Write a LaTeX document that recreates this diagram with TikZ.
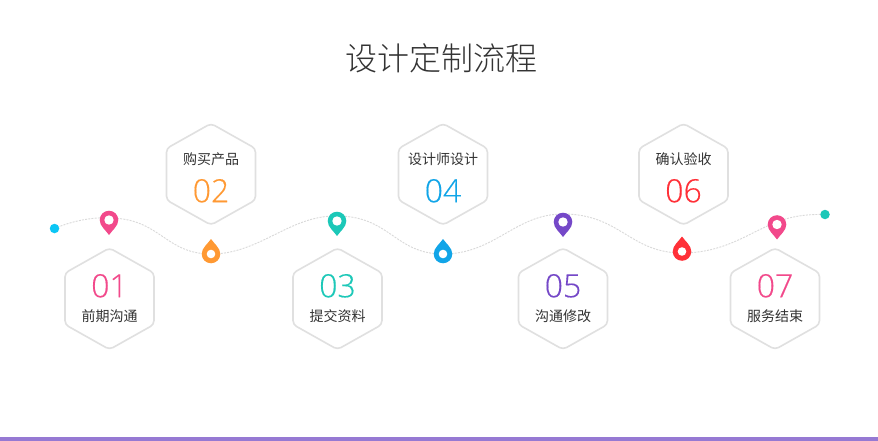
\documentclass[tikz,border=0pt]{standalone}
\usepackage{fontspec}
\setmainfont{Noto Sans CJK SC}
\newfontfamily\titlefont{Noto Sans CJK SC Light}
\newfontfamily\numfont[FakeBold=0.35]{Open Sans Light}
\definecolor{cpink}{HTML}{F2498B}
\definecolor{corange}{HTML}{FF9933}
\definecolor{cteal}{HTML}{1CC8B8}
\definecolor{cblue}{HTML}{11A5E8}
\definecolor{cpurple}{HTML}{7548C8}
\definecolor{cred}{HTML}{FF3038}
\definecolor{cbar}{HTML}{9679D3}
\definecolor{ctext}{HTML}{333333}
\definecolor{cstart}{HTML}{0CC6F5}
\tikzset{
  hexline/.style={draw=black!12,line width=1.6pt,rounded corners=4pt,fill=white},
  trail/.style={draw=black!15,line width=0.9pt,dash pattern=on 2pt off 1.2pt},
  numlabel/.style={font=\numfont\fontsize{32}{32}\selectfont,inner sep=0pt},
  textlabel/.style={font=\fontsize{14}{14}\selectfont,text=ctext,inner sep=0pt},
  endpoint/.style={circle,inner sep=0pt,minimum size=9.5pt},
  hole/.style={circle,fill=white,inner sep=0pt,minimum size=#1},
}
\newcommand{\hexshape}[2]{% cx, top
  \draw[hexline] (#1,#2) -- ++(44.5,25) -- ++(0,51.5) -- ++(-44.5,25) -- ++(-44.5,-25) -- ++(0,-51.5) -- cycle;
}
\newcommand{\upperstep}[5]{% name, cx, label, number, colour
  \hexshape{#2}{123.5}
  \node[textlabel] (#1t) at (#2,159) {#3};
  \node[numlabel,text=#5] (#1n) at (#2,190.8) {#4};
}
\newcommand{\lowerstep}[5]{%
  \hexshape{#2}{248}
  \node[numlabel,text=#5] (#1n) at (#2,285.8) {#4};
  \node[textlabel] (#1t) at (#2,316) {#3};
}
\newcommand{\markshape}[1]{% drawn around origin, tip downwards
  \fill[#1] (0,15) .. controls (-3,10.5) and (-9.3,6) .. (-9.3,0)
     .. controls (-9.3,-5.1) and (-5.1,-9.3) .. (0,-9.3)
     .. controls (5.1,-9.3) and (9.3,-5.1) .. (9.3,0)
     .. controls (9.3,6) and (3,10.5) .. (0,15) -- cycle;
}
\newcommand{\pinmark}[4]{% name,x,y,colour
  \coordinate (#1) at (#2,#3);
  \begin{scope}[shift={(#2,#3)}]\markshape{#4}\end{scope}
  \node[hole=9.4pt] (#1h) at (#2,#3) {};
}
\newcommand{\dropmark}[4]{%
  \coordinate (#1) at (#2,#3);
  \begin{scope}[shift={(#2,#3)},yscale=-1]\markshape{#4}\end{scope}
  \node[hole=8.6pt] (#1h) at (#2,#3) {};
}
\begin{document}
\begin{tikzpicture}[x=1pt,y=-1pt]
\useasboundingbox (0,0) rectangle (878,441);
\fill[white] (0,0) rectangle (878,441);
\fill[cbar] (0,437) rectangle (878,441);
\node[inner sep=0pt,text=ctext,font=\titlefont\fontsize{32}{32}\selectfont] (title) at (441.5,58) {设计定制流程};

\coordinate (a0) at (54.5,228.5);
\coordinate (a1) at (109,218);
\coordinate (a2) at (211,254);
\coordinate (a3) at (337,216);
\coordinate (a4) at (443,254);
\coordinate (a5) at (563,214);
\coordinate (a6) at (682,253);
\coordinate (a7) at (777,222);
\coordinate (a8) at (825,214.5);
\draw[trail] (a0) .. controls (72,221) and (92,217) .. (a1)
  .. controls (160,218) and (165,254) .. (a2)
  .. controls (260,254) and (290,215) .. (a3)
  .. controls (390,216) and (395,254) .. (a4)
  .. controls (495,254) and (515,214) .. (a5)
  .. controls (620,214) and (630,253) .. (a6)
  .. controls (725,253) and (750,232) .. (a7)
  .. controls (792,216) and (808,214) .. (a8);

\lowerstep{s1}{109.5}{前期沟通}{01}{cpink}
\upperstep{s2}{211}{购买产品}{02}{corange}
\lowerstep{s3}{337.5}{提交资料}{03}{cteal}
\upperstep{s4}{443}{设计师设计}{04}{cblue}
\lowerstep{s5}{563}{沟通修改}{05}{cpurple}
\upperstep{s6}{683.5}{确认验收}{06}{cred}
\lowerstep{s7}{775}{服务结束}{07}{cpink}

\node[endpoint,fill=cstart] (e0) at (a0) {};
\node[endpoint,fill=cteal] (e8) at (a8) {};
\pinmark{p1}{109}{220}{cpink}
\dropmark{p2}{211}{254}{corange}
\pinmark{p3}{337}{221}{cteal}
\dropmark{p4}{443}{254}{cblue}
\pinmark{p5}{563}{222}{cpurple}
\dropmark{p6}{682}{251.5}{cred}
\pinmark{p7}{777}{224.5}{cpink}
\end{tikzpicture}
\end{document}
